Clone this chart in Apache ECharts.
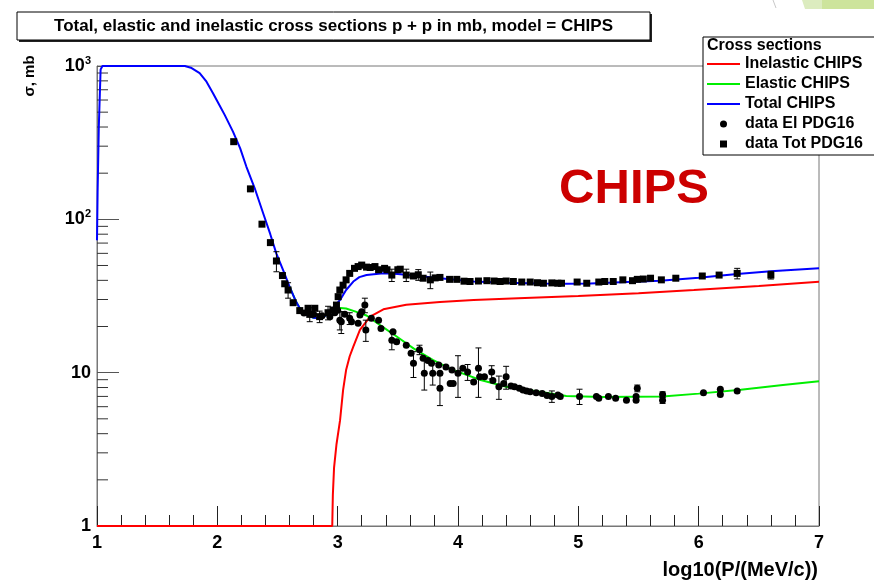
<!DOCTYPE html>
<html>
<head>
<meta charset="utf-8">
<script src="https://cdn.jsdelivr.net/npm/echarts@6/dist/echarts.min.js"></script>
<style>html,body{margin:0;padding:0;background:#fff;}#c{width:874px;height:583px;}</style>
</head>
<body>
<div id="c"></div>
<script>
// ---- Model curves ----
const inelCurveX = [1.0,2.955,2.96,2.97,2.99,3.02,3.045,3.07,3.1,3.13,3.185,3.27,3.38,3.57,3.85,4.13,4.5,5.0,5.5,5.96,6.5,7.0];
const inelCurveY = [1,1,1.6,2.4,3.4,4.9,7.7,10.4,12.8,14.8,19,23.2,25.9,27.7,28.9,29.8,30.6,31.6,33,34.6,36.8,39.2];

const elCurveX = [2.6,2.65,2.685,2.74,2.80,2.85,2.90,2.95,3.0,3.07,3.15,3.24,3.35,3.49,3.63,3.79,3.96,4.18,4.40,4.68,4.9,5.2,5.7,6.0,6.35,6.7,7.0];
const elCurveY = [36.4,29.5,26.3,23.8,22.8,22.6,23.6,25.5,26.5,26.2,25,23.6,20.5,17.2,14.4,12.1,10.4,9.0,8.1,7.5,7.05,6.95,7.0,7.3,7.75,8.3,8.8];

const totCurveX = [1.0,1.005,1.015,1.03,1.045,1.73,1.78,1.853,1.91,1.964,2.01,2.061,2.13,2.19,2.241,2.31,2.38,2.44,2.49,2.55,2.60,2.65,2.685,2.74,2.80,2.85,2.90,2.96,3.02,3.07,3.13,3.18,3.24,3.38,3.5,3.65,3.85,4.13,4.4,4.68,4.9,5.1,5.4,5.68,6.0,6.32,6.6,7.0];
const totCurveY = [73,150,400,950,1000,1000,975,898,790,664,570,480,373,290,221,160,110,80,60,46,36.4,29.5,26.3,23.8,22.8,22.6,23.6,26.3,29.8,34.6,39.3,42,43.4,44.5,44,42.8,41.3,39.3,38.6,38.2,38,38.2,39,39.8,41.6,44,45.8,48];

// ---- Data: total cross section (squares) ----
const totDataX = [2.136,2.275,2.371,2.441,2.491,2.541,2.56,2.588,2.63,2.685,2.754,2.768,2.81,2.85,2.92,2.96,2.99,3.004,3.018,3.045,3.07,3.10,3.14,3.17,3.20,3.24,3.27,3.31,3.34,3.39,3.41,3.45,3.50,3.52,3.57,3.63,3.67,3.71,3.77,3.81,3.85,3.93,3.99,4.05,4.10,4.17,4.24,4.30,4.35,4.40,4.46,4.53,4.60,4.66,4.71,4.78,4.83,4.86,4.99,5.07,5.17,5.22,5.29,5.37,5.45,5.49,5.54,5.60,5.69,5.81,6.03,6.17,6.32,6.60];
const totDataY = [321,158,93,70.5,53.5,43,38,34.6,28.6,25.4,26.3,24,26.3,23.2,24.6,25.6,27.6,31.3,34.6,37.2,40.3,44.4,47.9,49.2,50.3,48.8,48.5,49.2,46.9,47.9,46.9,43.3,46.9,47.3,43.3,42.7,43.5,41.3,40.3,41.5,41.8,40.6,40.6,39.5,39.3,39.6,39.8,39.6,39.3,39.6,39.3,39.0,39,38.6,38.3,38.5,38.3,38.3,39,38.3,39,39.3,39.3,40.3,39.8,40.6,40.8,41.3,40.3,41.3,42.7,43.3,44.4,43.3];
const totDataErr = [0,0,0,0,8,0,0,4,0,0,0,2.5,0,2,2.5,0,0,0,0,0,0,0,0,0,2,0,0,0,0,0,0,4,0,0,4,0,3.5,0,5,0,0,0,0,0,0,0,0,0,0,0,0,0,0,0,0,0,0,0,0,0,0,0,0,0,0,0,0,0,0,0,0,0,3.5,2.5];

// ---- Data: elastic cross section (circles) ----
const elDataX = [2.72,2.80,2.87,2.935,2.976,3.00,3.018,3.03,3.06,3.10,3.115,3.17,3.185,3.20,3.226,3.234,3.28,3.34,3.36,3.45,3.46,3.49,3.57,3.61,3.63,3.68,3.71,3.72,3.75,3.78,3.79,3.84,3.85,3.85,3.90,3.935,3.95,3.96,4.0,4.04,4.08,4.13,4.17,4.18,4.22,4.28,4.29,4.34,4.38,4.40,4.44,4.47,4.51,4.54,4.57,4.60,4.65,4.70,4.74,4.78,4.83,4.85,5.01,5.15,5.17,5.25,5.31,5.40,5.48,5.49,5.48,5.70,5.70,6.04,6.18,6.18,6.32];
const elDataY = [24.5,24.0,23.5,23.2,24.6,25.5,22.0,21.5,24.0,22.6,21.5,21.0,23.8,25.0,27.6,19.0,22.6,22.0,19.4,16.3,18.5,15.9,15.1,13.4,11.5,14.1,12.4,9.9,12.0,11.5,9.9,11.2,9.9,7.9,10.9,8.5,10.4,8.5,9.9,10.7,10.1,8.7,10.7,9.4,9.4,10.1,8.9,8.1,8.5,9.4,8.2,8.1,7.9,7.7,7.6,7.5,7.4,7.3,7.1,7.0,7.15,7.0,7.0,7.0,6.8,7.0,6.8,6.6,7.0,7.9,6.6,7.2,6.6,7.4,7.8,7.2,7.6];
const elDataErr = [0,0,0,0,0,0,3,3.5,0,2,0,0,0,0,3,3,0,0,0,2.2,0,0,0,0,2.2,1,0,2.2,0,0,1.6,0,0,1.8,0,0,0,0,3,0,1.2,0,3.8,0,0,1,0,1.4,0,1.6,0,0,0,0,0,0,0,0,0,0.6,0,0,0.8,0,0,0,0,0,0,0.4,0,0.3,0.3,0,0,0,0];

// ---- Axis ticks ----
const xTickValues = [1,2,3,4,5,6,7];
const yDecades = [1,10,100,1000];
const yMinorMultipliers = [2,3,4,5,6,7,8,9];

const FONT = '"Liberation Sans", Arial, Helvetica, sans-serif';
const zip = (xs, ys) => xs.map((x, i) => [x, ys[i]]);
const zip3 = (xs, ys, es) => xs.map((x, i) => [x, ys[i], es[i]]);

const minorY = [];
yDecades.slice(0, 3).forEach(d => yMinorMultipliers.forEach(m => minorY.push([xTickValues[0], d * m])));

function errRender(params, api) {
  const x = api.value(0), y = api.value(1), e = api.value(2);
  if (!e) return null;
  const a = api.coord([x, y + e]);
  const b = api.coord([x, Math.max(y - e, 1.0001)]);
  const st = { stroke: '#000', lineWidth: 1 };
  return {
    type: 'group',
    children: [
      { type: 'line', shape: { x1: a[0], y1: a[1], x2: b[0], y2: b[1] }, style: st },
      { type: 'line', shape: { x1: a[0] - 3, y1: a[1], x2: a[0] + 3, y2: a[1] }, style: st },
      { type: 'line', shape: { x1: b[0] - 3, y1: b[1], x2: b[0] + 3, y2: b[1] }, style: st }
    ]
  };
}
function minorRender(params, api) {
  const p = api.coord([api.value(0), api.value(1)]);
  return { type: 'line', shape: { x1: p[0], y1: p[1], x2: p[0] + 11, y2: p[1] }, style: { stroke: '#333', lineWidth: 1 } };
}

const chart = echarts.init(document.getElementById('c'), null, { renderer: 'canvas' });
const linePath = 'path://M0,0H33V2H0Z';
const sqPath = 'path://M0,0H1V1H0Z';
chart.setOption({
  animation: false,
  backgroundColor: '#fff',
  grid: { left: 97, right: 55, top: 66, bottom: 57, show: true, borderColor: '#777', borderWidth: 1, containLabel: false },
  xAxis: {
    type: 'value', min: 1, max: 7, interval: 1,
    axisLine: { show: true, lineStyle: { color: '#777', width: 1 } },
    axisTick: { show: true, inside: true, length: 20, lineStyle: { color: '#222' } },
    minorTick: { show: true, splitNumber: 5, length: 11, lineStyle: { color: '#222' } },
    splitLine: { show: false },
    axisLabel: { fontFamily: FONT, fontWeight: 'bold', fontSize: 18, color: '#000', margin: 8 }
  },
  yAxis: {
    type: 'log', logBase: 10, min: 1, max: 1000,
    axisLine: { show: true, lineStyle: { color: '#777', width: 1 } },
    axisTick: { show: true, inside: true, length: 22, lineStyle: { color: '#555' } },
    splitLine: { show: false },
    axisLabel: {
      fontFamily: FONT, fontWeight: 'bold', fontSize: 18, color: '#000', margin: 6,
      formatter: function (v) {
        const e = Math.round(Math.log10(v));
        if (e === 0) return '1';
        if (e === 1) return '10';
        return '10{s|' + e + '}';
      },
      rich: { s: { fontFamily: FONT, fontWeight: 'bold', fontSize: 11, color: '#000', padding: [0, 0, 11, 0] } }
    }
  },
  legend: {
    orient: 'vertical', left: 703, top: 37,
    padding: [19, 40, 3, 4],
    itemWidth: 33, itemHeight: 7, itemGap: 4,
    backgroundColor: '#fff', borderColor: '#000', borderWidth: 1, borderRadius: 0,
    textStyle: { fontFamily: FONT, fontWeight: 'bold', fontSize: 16, color: '#000', lineHeight: 14 },
    selectedMode: false,
    data: [
      { name: 'Inelastic CHIPS', icon: linePath },
      { name: 'Elastic CHIPS', icon: linePath },
      { name: 'Total CHIPS', icon: linePath },
      { name: 'data El PDG16', icon: 'circle' },
      { name: 'data Tot PDG16', icon: sqPath }
    ]
  },
  graphic: [
    { type: 'polygon', z: 100, shape: { points: [[802, 0], [874, 0], [874, 9], [805, 9]] }, style: { fill: '#dcecbf' } },
    { type: 'polygon', z: 100, shape: { points: [[822, 0], [874, 0], [874, 9], [822, 9]] }, style: { fill: '#cde49c' } },
    { type: 'line', z: 100, shape: { x1: 773, y1: 0, x2: 776, y2: 8 }, style: { stroke: '#c8c8c8', lineWidth: 1 } },
    { type: 'rect', z: 100, shape: { x: 19, y: 14, width: 633, height: 28 }, style: { fill: '#222' } },
    { type: 'rect', z: 101, shape: { x: 17, y: 12, width: 633, height: 28 }, style: { fill: '#fff', stroke: '#000', lineWidth: 1 } },
    { type: 'text', z: 102, x: 333.5, y: 26.5, style: { text: 'Total, elastic and inelastic cross sections p + p in mb, model = CHIPS', fontFamily: FONT, fontWeight: 'bold', fontSize: 17, fill: '#000', align: 'center', verticalAlign: 'middle' } },
    { type: 'text', z: 102, x: 707, y: 46, style: { text: 'Cross sections', fontFamily: FONT, fontWeight: 'bold', fontSize: 16, fill: '#000', align: 'left', verticalAlign: 'middle' } },
    { type: 'text', z: 102, x: 634, y: 189, style: { text: 'CHIPS', fontFamily: FONT, fontWeight: 'bold', fontSize: 49, fill: '#cc0000', align: 'center', verticalAlign: 'middle' } },
    { type: 'text', z: 102, x: 30, y: 76, rotation: Math.PI / 2, style: { text: 'σ, mb', fontFamily: FONT, fontWeight: 'bold', fontSize: 15, fill: '#000', align: 'center', verticalAlign: 'middle' } },
    { type: 'text', z: 102, x: 818, y: 570, style: { text: 'log10(P/(MeV/c))', fontFamily: FONT, fontWeight: 'bold', fontSize: 20, fill: '#000', align: 'right', verticalAlign: 'middle' } }
  ],
  series: [
    { name: 'yMinorTicks', type: 'custom', renderItem: minorRender, data: minorY, silent: true, clip: false, z: 3 },
    { name: 'Inelastic CHIPS', type: 'line', data: zip(inelCurveX, inelCurveY), showSymbol: false, symbol: 'none', clip: false, color: '#ff0000', lineStyle: { color: '#ff0000', width: 2 }, z: 4 },
    { name: 'Elastic CHIPS', type: 'line', data: zip(elCurveX, elCurveY), showSymbol: false, symbol: 'none', clip: false, color: '#00ee00', lineStyle: { color: '#00ee00', width: 2 }, z: 5 },
    { name: 'Total CHIPS', type: 'line', data: zip(totCurveX, totCurveY), showSymbol: false, symbol: 'none', clip: false, color: '#0000ff', lineStyle: { color: '#0000ff', width: 2 }, z: 6 },
    { name: 'elErr', type: 'custom', renderItem: errRender, data: zip3(elDataX, elDataY, elDataErr), silent: true, z: 7 },
    { name: 'totErr', type: 'custom', renderItem: errRender, data: zip3(totDataX, totDataY, totDataErr), silent: true, z: 7 },
    { name: 'data El PDG16', type: 'scatter', data: zip(elDataX, elDataY), symbol: 'circle', symbolSize: 7, color: '#000', itemStyle: { color: '#000', opacity: 1 }, z: 8 },
    { name: 'data Tot PDG16', type: 'scatter', data: zip(totDataX, totDataY), symbol: 'rect', symbolSize: 7, color: '#000', itemStyle: { color: '#000', opacity: 1 }, z: 8 }
  ]
});
</script>
</body>
</html>
